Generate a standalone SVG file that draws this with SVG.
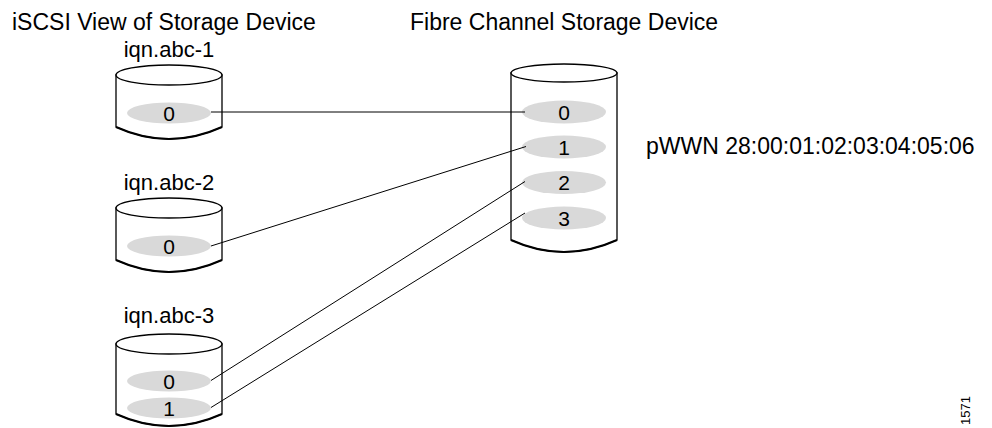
<svg xmlns="http://www.w3.org/2000/svg" width="992" height="428" viewBox="0 0 992 428">
  <style>
    text { font-family: "Liberation Sans", Arial, Helvetica, sans-serif; fill: #000; }
    .title { font-size: 23px; }
    .lun { font-size: 21px; text-anchor: middle; }
    .label { font-size: 22px; text-anchor: middle; }
    .shell { fill: #fff; stroke: #000; stroke-width: 1.3; }
    .base { fill: none; stroke: #000; stroke-width: 2.2; }
    .slot { fill: #d9d9d9; stroke: none; }
    .link { fill: none; stroke: #000; stroke-width: 1; }
  </style>

  <text class="title" x="12" y="30">iSCSI View of Storage Device</text>
  <text class="title" x="410" y="30">Fibre Channel Storage Device</text>

  <!-- iSCSI target iqn.abc-1 -->
  <g id="iqn-abc-1">
    <text class="label" x="169" y="57">iqn.abc-1</text>
    <path class="shell" d="M116,75 L116,127 Q169,151 222,127 L222,75 Z"/>
    <path class="base" d="M116,127 Q169,151 222,127"/>
    <ellipse class="shell" cx="169" cy="75" rx="53" ry="10"/>
    <ellipse class="slot" cx="169" cy="113" rx="42" ry="10.5"/>
    <text class="lun" x="169" y="120.5">0</text>
  </g>

  <!-- iSCSI target iqn.abc-2 -->
  <g id="iqn-abc-2">
    <text class="label" x="169" y="190">iqn.abc-2</text>
    <path class="shell" d="M116,208 L116,260 Q169,284 222,260 L222,208 Z"/>
    <path class="base" d="M116,260 Q169,284 222,260"/>
    <ellipse class="shell" cx="169" cy="208" rx="53" ry="10"/>
    <ellipse class="slot" cx="169" cy="246" rx="42" ry="10.5"/>
    <text class="lun" x="169" y="253.5">0</text>
  </g>

  <!-- iSCSI target iqn.abc-3 -->
  <g id="iqn-abc-3">
    <text class="label" x="169" y="323">iqn.abc-3</text>
    <path class="shell" d="M116,344 L116,414 Q169,438 222,414 L222,344 Z"/>
    <path class="base" d="M116,414 Q169,438 222,414"/>
    <ellipse class="shell" cx="169" cy="344" rx="53" ry="10"/>
    <ellipse class="slot" cx="169" cy="381" rx="42" ry="10.5"/>
    <text class="lun" x="169" y="388.5">0</text>
    <ellipse class="slot" cx="169" cy="408" rx="42" ry="10.5"/>
    <text class="lun" x="169" y="415.5">1</text>
  </g>

  <!-- Fibre Channel storage device -->
  <g id="fc-device">
    <path class="shell" d="M511,73 L511,240 Q564,264 617,240 L617,73 Z"/>
    <path class="base" d="M511,240 Q564,264 617,240"/>
    <ellipse class="shell" cx="564" cy="73" rx="53" ry="9"/>
    <ellipse class="slot" cx="564" cy="112" rx="42" ry="11.5"/>
    <text class="lun" x="564" y="119.5">0</text>
    <ellipse class="slot" cx="564" cy="147" rx="42" ry="11.5"/>
    <text class="lun" x="564" y="154.5">1</text>
    <ellipse class="slot" cx="564" cy="182.5" rx="42" ry="11.5"/>
    <text class="lun" x="564" y="190">2</text>
    <ellipse class="slot" cx="564" cy="218" rx="42" ry="11.5"/>
    <text class="lun" x="564" y="225.5">3</text>
  </g>

  <text id="pwwn" class="title" x="646" y="154">pWWN 28:00:01:02:03:04:05:06</text>

  <!-- LUN mappings -->
  <g id="connectors">
    <line class="link" x1="211" y1="112" x2="525" y2="112"/>
    <line class="link" x1="211" y1="246" x2="526" y2="146.5"/>
    <line class="link" x1="211" y1="380.5" x2="525" y2="181.5"/>
    <line class="link" x1="211" y1="407.5" x2="525" y2="213"/>
  </g>

  <text x="970" y="425" transform="rotate(-90 970 425)" font-size="13">1571</text>
</svg>
